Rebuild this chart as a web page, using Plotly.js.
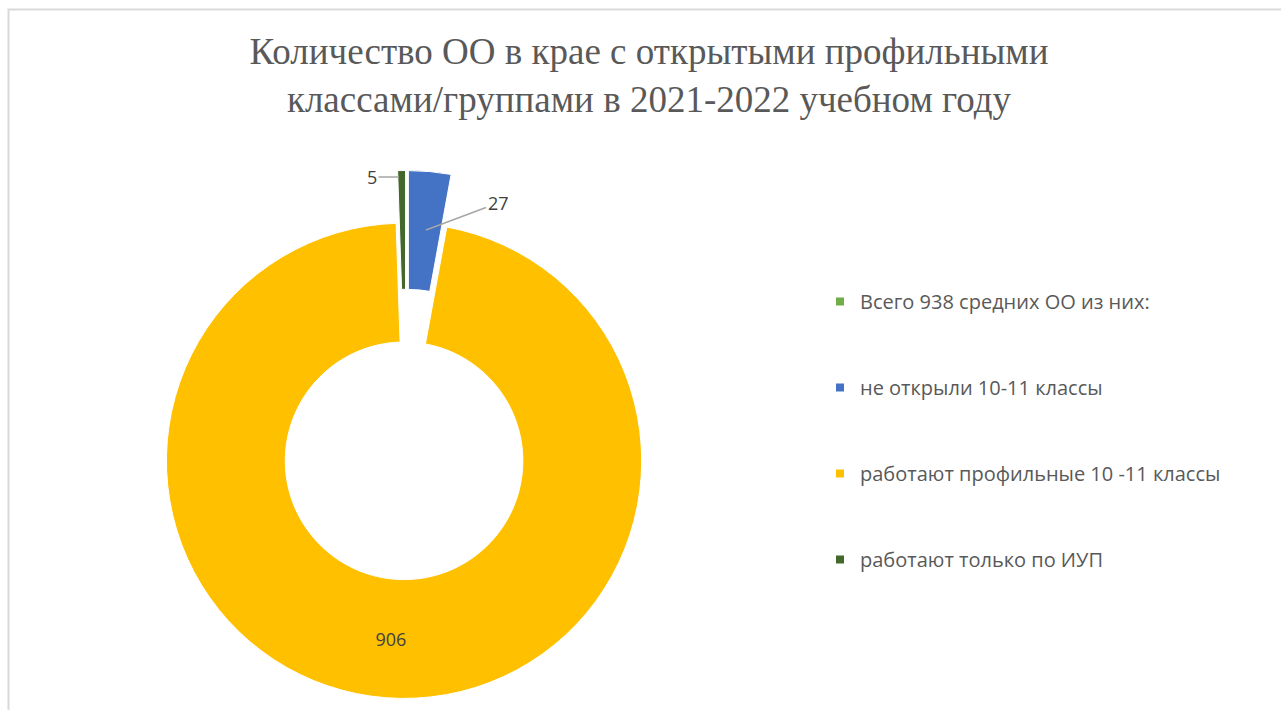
<!DOCTYPE html>
<html>
<head>
<meta charset="utf-8">
<script src="https://cdn.plot.ly/plotly-3.0.1.min.js"></script>
<style>html,body{margin:0;padding:0;background:#fff;}#chart{width:1281px;height:710px;}</style>
</head>
<body>
<div id="chart"></div>
<script>
const categories = ["Всего 938 средних ОО из них:", "не открыли 10-11 классы", "работают профильные 10 -11 классы", "работают только по ИУП"];
const values = [0, 27, 906, 5];
const colors = ["#70AD47", "#4472C4", "#FFC000", "#43682B"];
const labelPositions = ["none", "none", "inside", "none"];
const titleText = "Количество ОО в крае с открытыми профильными<br>классами/группами в 2021-2022 учебном году";

const W = 1281, H = 710;
const px = v => v / W;
const py = v => 1 - v / H;
const sansFont = "Open Sans, Liberation Sans, Arial, sans-serif";

const pie = {
  type: "pie",
  labels: categories,
  values: values,
  sort: false,
  direction: "clockwise",
  rotation: 0,
  hole: 0.5,
  pull: values.map(() => 0.111),
  marker: {colors: colors, line: {color: "#FFFFFF", width: 1}},
  textposition: labelPositions,
  texttemplate: "%{value}",
  insidetextorientation: "horizontal",
  textfont: {family: sansFont, size: 18, color: "#404040"},
  showlegend: false,
  domain: {x: [px(142), px(670)], y: [py(698.5), py(170.5)]},
  hoverinfo: "label+value"
};

const legendTraces = categories.map((c, i) => ({
  type: "scatter",
  mode: "markers",
  x: [null], y: [null],
  name: c,
  legendgroup: "g" + i,
  marker: {symbol: "square", size: 8, color: colors[i]},
  showlegend: true,
  hoverinfo: "skip"
}));

const layout = {
  width: W, height: H,
  margin: {l: 0, r: 0, t: 0, b: 0},
  paper_bgcolor: "#FFFFFF",
  plot_bgcolor: "rgba(0,0,0,0)",
  xaxis: {visible: false, range: [0, 1]},
  yaxis: {visible: false, range: [0, 1]},
  title: {
    text: titleText,
    font: {family: "Liberation Serif, Times New Roman, serif", size: 37, color: "#595959"},
    x: px(649), xanchor: "center", xref: "paper",
    y: py(64), yanchor: "top", yref: "container"
  },
  legend: {
    x: px(820), xanchor: "left",
    y: py(282), yanchor: "top",
    font: {family: sansFont, size: 20, color: "#595959"},
    tracegroupgap: 57,
    bgcolor: "rgba(0,0,0,0)"
  },
  annotations: [
    {xref: "paper", yref: "paper", x: px(426), y: py(230), ax: 72, ay: -27,
     text: String(values[1]), showarrow: true, arrowhead: 0, arrowwidth: 1.5, arrowcolor: "#A6A6A6",
     font: {family: sansFont, size: 18, color: "#404040"}},
    {xref: "paper", yref: "paper", x: px(399), y: py(177), ax: -27, ay: 0,
     text: String(values[3]), showarrow: true, arrowhead: 0, arrowwidth: 1.5, arrowcolor: "#A6A6A6",
     font: {family: sansFont, size: 18, color: "#404040"}}
  ],
  shapes: [
    {type: "rect", xref: "paper", yref: "paper", x0: px(8.5), x1: 1.02, y0: -0.02, y1: py(9.5),
     line: {color: "#D9D9D9", width: 2}, fillcolor: "rgba(0,0,0,0)", layer: "below"}
  ],
  showlegend: true
};

Plotly.newPlot("chart", [pie].concat(legendTraces), layout, {displayModeBar: false, staticPlot: true});
</script>
</body>
</html>
